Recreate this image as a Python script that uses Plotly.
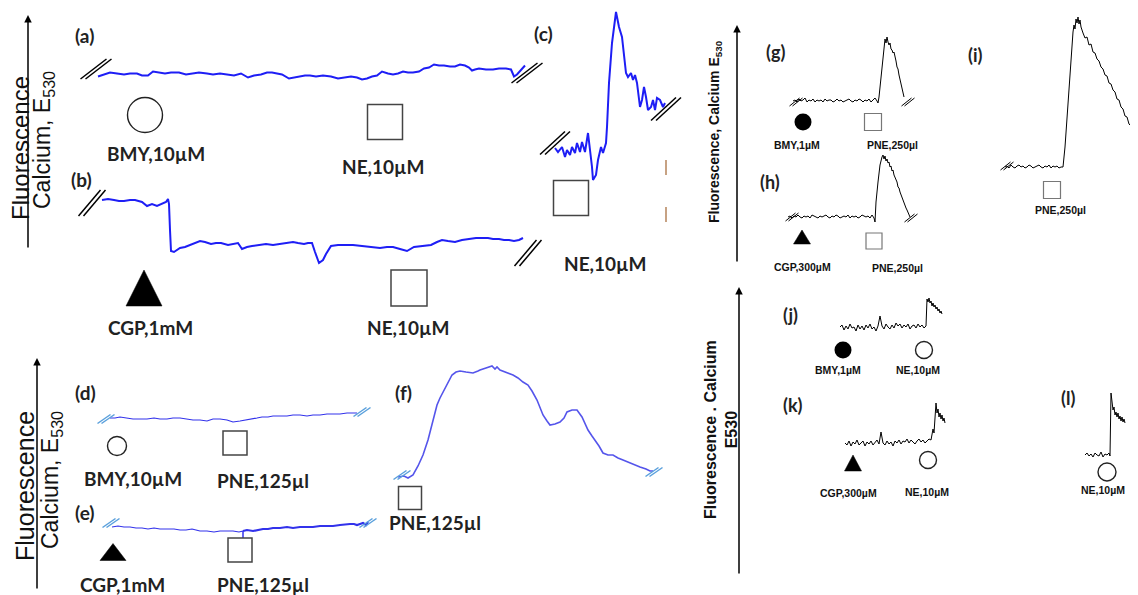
import plotly.graph_objects as go

W, H = 1138, 595
OFF = 8  # the page body margin in which the figure sits

# ---------------- data: time (s) and fluorescence change (a.u.) ----------------
a_t = [0,5,12,19,26,32,39,44,50,55,61,67,73,81,88,95,101,109,115,122,129,136,143,150,156,163,169,174,179,184,
       191,196,202,207,212,218,225,233,240,246,253,259,264,269,274,279,284,290,295,300,305,310,315,321,326,331,336,341,346,352,
       357,362,367,371,374,377,381,388,395,401,408,413,416,419,421,424,427]
a_f = [0,2,4,3,2,3,3,1,1,5,4,3,4,4,2,3,4,3,2,3,2,1,3,-1,1,2,4,4,3,2,
       -2,-1,0,1,1,0,1,0,-2,-1,0,-1,-3,-2,0,1,5,3,2,3,5,4,4,5,8,9,12,11,11,10,
       10,12,11,9,6,7,8,7,7,8,8,7,0,2,4,7,11]
a_drugs = ["BMY,10µM", "NE,10µM"]
a_add = [47, 287]

b_t = [0,6,12,17,22,28,33,37,40,45,50,55,60,64,66,67,68,69,72,78,83,88,93,98,103,109,114,119,126,131,
       136,140,145,150,157,164,171,178,185,191,196,202,206,210,213,217,221,224,229,236,243,251,260,269,278,285,291,298,305,312,
       320,329,335,340,346,353,360,367,374,381,386,391,397,402,407,412,417,421]
b_f = [0,1,0,-1,-1,0,0,-1,-2,-6,-4,-6,-4,-2,1,-4,-30,-51,-52,-48,-47,-45,-43,-41,-42,-44,-43,-43,-45,-44,
       -43,-49,-47,-46,-45,-44,-45,-44,-43,-42,-43,-44,-43,-43,-52,-63,-60,-54,-46,-45,-45,-45,-46,-47,-48,-47,-47,-49,-51,-47,
       -46,-45,-42,-40,-41,-42,-40,-39,-38,-38,-38,-39,-39,-40,-40,-41,-40,-38]
b_drugs = ["CGP,1mM", "NE,10µM"]
b_add = [42, 307]

c_t = [0,3,7,10,12,15,17,20,22,25,27,30,33,35,37,38,41,43,46,48,51,52,54,57,59,61,62,64,67,69,
       71,73,76,78,80,82,83,85,87,89,91,93,96,98,100,102,105,108,110]
c_f = [0,-4,1,-9,-2,-7,1,-5,5,-4,6,-4,15,0,-19,-32,-27,-12,1,-5,5,21,65,105,121,136,131,121,111,91,
       75,71,75,68,73,65,58,41,48,61,51,38,41,48,38,50,48,41,45]
c_drugs = ["NE,10µM"]
c_add = [16]

d_t = [0,5,10,16,23,30,37,44,50,57,63,70,77,83,90,97,103,110,117,123,
       130,137,142,147,152,158,163,170,177,183,190,197,203,210,217,223,230,237,243,247]
d_f = [0,0,1,0,-1,-1,-1,0,-1,-1,0,0,-1,-2,-2,-3,-1,-1,-2,-4,
       -3,-2,-1,0,1,1,2,2,2,3,3,2,3,3,4,4,4,5,5,5]
d_drugs = ["BMY,10µM", "PNE,125µl"]
d_add = [7, 125]

e_t = [0,6,12,18,24,30,36,42,48,55,62,68,74,80,88,95,102,108,115,121,127,131,135,141,146,151,156,161,168,175,
       181,188,195,201,208,215,221,228,234,238,242,245,248,251,254,256]
e_f = [0,1,0,0,-1,-1,-2,-1,-2,-2,-2,-3,-3,-2,-4,-4,-5,-4,-4,-4,-5,-4,-3,-4,-3,-2,-2,-1,-1,0,
       -1,0,0,0,1,1,1,2,3,3,3,2,3,4,2,5]
e_drugs = ["CGP,1mM", "PNE,125µl"]
e_add = [1, 128]

f_t = [0,6,10,15,20,25,30,35,39,42,47,51,54,58,62,68,75,80,82,88,94,97,99,102,108,115,120,125,130,134,
       139,142,145,149,152,157,162,166,169,174,179,184,187,190,194,197,201,205,210,215,220,225,232,237,242,248,252,255]
f_f = [0,1,-1,2,11,22,37,57,72,79,89,97,102,105,106,105,104,106,107,109,111,108,110,107,105,102,99,95,92,86,
       77,69,62,56,52,53,55,59,65,67,67,60,53,47,41,37,31,24,22,22,19,17,14,12,10,8,6,6]
f_drugs = ["PNE,125µl"]
f_add = [12]

g_t = [0,2,4,6,8,10,12,14,16,18,20,22,24,26,28,30,32,34,36,38,40,42,44,46,48,50,52,54,56,58,60,62,64,66,68,70,72,74,76,78,80,82,84,
       85,86,88,90,91,92,93,94,95,96,97,98,99,100,101,102,103,104,105,106,107,108,109,110,111]
g_f = [0,1,-1,2,0,1,3,-1,1,0,2,-1,1,0,1,-1,2,0,1,1,-1,0,2,0,1,-1,0,1,2,0,-1,1,0,2,1,-1,1,0,2,-1,1,3,0,
       -2,4,24,44,54,62,58,64,59,56,58,52,51,48,49,42,40,34,32,26,22,16,12,8,4]
g_drugs = ["BMY,1µM", "PNE,250µl"]
g_add = [10, 80]

h_t = [0,2,4,6,8,10,12,14,16,18,20,22,24,26,28,30,32,34,36,38,40,42,44,46,48,50,52,54,56,58,60,62,64,66,68,70,72,74,76,78,80,82,84,
       86,87,88,90,92,94,95,96,97,98,99,100,101,102,103,104,105,106,107,108,109,110,111,112,113,114,115,116,117,118,119,120,121,122]
h_f = [0,1,-1,1,0,2,0,-1,1,0,1,-1,2,1,0,-1,1,0,1,2,0,-1,1,0,2,1,-1,0,1,0,2,-1,1,0,1,-1,0,2,1,0,1,-1,2,
       -1,-5,15,35,52,60,62,58,61,56,58,54,55,50,51,46,47,42,40,37,35,30,29,25,22,19,17,14,12,9,7,4,2,0]
h_drugs = ["CGP,300µM", "PNE,250µl"]
h_add = [14, 86]

i_t = [0,2,4,6,8,10,12,14,16,18,20,22,24,26,28,30,32,34,36,38,40,42,44,46,48,50,52,54,56,
       58,60,62,64,66,67,68,69,70,71,72,73,74,75,76,
       78,80,82,84,86,88,90,92,94,96,98,100,102,104,106,108,110,112,114,116,118,120,122,124,126,128,130,132,134,136]
i_f = [0,1,-1,2,0,-1,1,2,0,1,-1,0,2,1,-1,0,1,2,0,-1,1,0,2,-1,1,0,1,-1,0,
       0,20,48,78,108,125,135,142,138,148,144,150,143,147,140,
       134,129,130,122,123,115,114,108,106,100,98,92,91,84,83,77,75,68,67,60,58,51,50,43,41,35,33,25,23,16]
i_drugs = ["PNE,250µl"]
i_add = [47]

j_t = [0,2,4,6,8,10,12,14,16,18,20,22,24,26,28,30,32,34,36,38,40,42,44,46,48,50,52,54,56,58,60,62,64,66,68,70,72,74,76,78,80,82,84,86,
       87,88,89,90,91,92,93,94,95,96,97,98,99,100,101,102]
j_f = [0,2,-3,1,-2,3,-1,0,-4,2,-2,1,-3,2,-1,3,-2,0,-4,1,11,1,-2,3,0,-2,2,-1,4,1,3,-1,2,0,3,-2,1,2,-1,3,0,2,-1,1,
       28,25,29,24,26,21,24,20,22,18,20,16,18,14,16,13]
j_drugs = ["BMY,1µM", "NE,10µM"]
j_add = [3, 84]

k_t = [0,2,4,6,8,10,12,14,16,18,20,22,24,26,28,30,32,34,36,38,40,42,44,46,48,50,52,54,56,58,60,62,64,66,68,70,72,74,76,78,80,82,84,
       86,87,88,89,90,91,92,93,94,95,96,97,98,99,100]
k_f = [0,-2,2,-3,1,-1,3,-2,0,2,-3,1,-1,2,-2,0,3,-1,11,0,-2,2,-1,1,-3,2,0,3,-1,2,1,4,0,3,1,-1,2,4,1,3,0,2,4,
       3,8,14,10,22,40,30,34,26,30,24,28,22,25,20]
k_drugs = ["CGP,300µM", "NE,10µM"]
k_add = [8, 83]

l_t = [0,2,4,6,8,10,12,14,16,18,20,22,24,25,26,27,28,29,30,31,32,33,34,35,36,37,38,39,40]
l_f = [0,2,-1,1,-2,2,0,-1,3,-2,1,0,2,-1,62,50,45,48,40,43,38,42,36,39,34,38,33,36,32]
l_drugs = ["NE,10µM"]
l_add = [22]

DATA = {
    'a': (a_t, a_f, a_drugs, a_add), 'b': (b_t, b_f, b_drugs, b_add), 'c': (c_t, c_f, c_drugs, c_add),
    'd': (d_t, d_f, d_drugs, d_add), 'e': (e_t, e_f, e_drugs, e_add), 'f': (f_t, f_f, f_drugs, f_add),
    'g': (g_t, g_f, g_drugs, g_add), 'h': (h_t, h_f, h_drugs, h_add), 'i': (i_t, i_f, i_drugs, i_add),
    'j': (j_t, j_f, j_drugs, j_add), 'k': (k_t, k_f, k_drugs, k_add), 'l': (l_t, l_f, l_drugs, l_add),
}

# ---------------- styles / layout of panels ----------------
BLUE = 'rgb(30,30,245)'
BLUE2 = 'rgb(50,50,235)'
BLUE3 = 'rgb(85,85,235)'
LB = 'rgb(90,160,220)'

STYLE = {
    'a': dict(org=(98, 76.5), color=BLUE, lw=2, side='L', letter=(-14, 41.5),
              brk=('black', 26, 20, 5, 1.5, (-2, 7.5), (2, -7.5)),
              marks=[('circle_open', 35, -38.5), ('square', 35, -45.5)], labs=[(11, -76.5), (-2, -89.5)]),
    'b': dict(org=(102, 200), color=BLUE, lw=2, side='L', letter=(-21, 21),
              brk=('black', 22, 26, 5, 1.5, (-10, -3), (5, -15)),
              marks=[('triangle', (36, 36), -88), ('square', 36, -88)], labs=[(6, -127), (-1, -127)]),
    'c': dict(org=(555, 148), color=BLUE, lw=2, side='L', letter=(-12, 115),
              brk=('black', 25, 23, 5, 1.5, (0, 5), (1, -6)),
              marks=[('square', 35, -50)], labs=[(34, -115)]),
    'd': dict(org=(110, 418), color=BLUE2, lw=1.2, side='L', letter=(-25, 26),
              brk=(LB, 13, 9, 4, 1.5, (-4, -1), (5, 1)),
              marks=[('circle_open', 19, -28), ('square', 24, -25)], labs=[(16, -60), (28, -62)]),
    'e': dict(org=(112, 527), color=BLUE2, lw=1.2, side='L', letter=(-27, 15),
              brk=(LB, 13, 9, 4, 1.5, (-1, 4), (0, -1)),
              marks=[('triangle', (26, 17), -25), ('square', 24, -23)], labs=[(9, -57), (23, -57)]),
    'f': dict(org=(398, 477), color=BLUE3, lw=1.6, side='L', letter=(5, 85),
              brk=(LB, 13, 9, 4, 1.5, (4, 2), (1, -1)),
              marks=[('square', 23, -21)], labs=[(25, -45)]),
    'g': dict(org=(793, 101), color='black', lw=1, side='R', letter=(-18, 49),
              brk=('black', 10, 8, 3, 1, (3, -1), (4, -5)),
              marks=[('circle_filled', 17, -21), ('square', 17, -21)], labs=[(-6, -44), (19, -44)]),
    'h': dict(org=(788, 217), color='black', lw=1, side='R', letter=(-18, 35),
              brk=('black', 10, 8, 3, 1, (4, 0), (1, -1)),
              marks=[('triangle', (17, 14), -20), ('square', 16, -24)], labs=[(0, -50), (23, -51)]),
    'i': dict(org=(1005, 167), color='black', lw=1, side='R', letter=(-30, 112),
              brk=('black', 10, 8, 3, 1, (2, 1), None),
              marks=[('square', 17, -23)], labs=[(8, -43)]),
    'j': dict(org=(840, 327), color='black', lw=1, side='R', letter=(-50, 12), brk=None,
              marks=[('circle_filled', 17, -23), ('circle_open', 17, -23)], labs=[(-5, -43), (-6, -43)]),
    'k': dict(org=(845, 443), color='black', lw=1, side='R', letter=(-52, 38), brk=None,
              marks=[('triangle', (17, 16), -20), ('circle_open', 17, -17)], labs=[(-5, -50), (-1, -49)]),
    'l': dict(org=(1085, 455), color='black', lw=1, side='R', letter=(-17, 57), brk=None,
              marks=[('circle_open', 18, -17)], labs=[(-4, -35)]),
}

LAB_FONT = {'L': dict(family='Lato', size=19, color='#222'),
            'R': dict(family='Liberation Sans', size=10.5, color='#111')}
LET_FONT = {'L': dict(family='Lato', size=19, color='#222'),
            'R': dict(family='Lato', size=18, color='#222')}

fig = go.Figure()
layout_axes = {}
annotations = []


def add(tr, xa, ya):
    tr.update(xaxis=xa, yaxis=ya, hoverinfo='skip', showlegend=False)
    fig.add_trace(tr)


def brk_xy(cx, cy, w, h, gap):
    xs = [cx - w / 2 - gap / 2, cx + w / 2 - gap / 2, None, cx - w / 2 + gap / 2, cx + w / 2 + gap / 2]
    ys = [cy - h / 2, cy + h / 2, None, cy - h / 2, cy + h / 2]
    return xs, ys


for idx, key in enumerate('abcdefghijkl', start=1):
    s = STYLE[key]
    t, f, drugs, adds = DATA[key]
    xa = 'x' if idx == 1 else f'x{idx}'
    ya = 'y' if idx == 1 else f'y{idx}'
    ox, oy = s['org']
    layout_axes['xaxis' if idx == 1 else f'xaxis{idx}'] = dict(domain=[0, 1], range=[OFF - ox, W - ox], visible=False,
                                                               anchor=ya, fixedrange=True)
    layout_axes['yaxis' if idx == 1 else f'yaxis{idx}'] = dict(domain=[0, 1], range=[oy - H, oy - OFF], visible=False,
                                                               anchor=xa, fixedrange=True)
    # trace
    if key == 'e':
        add(go.Scatter(x=t[:22], y=f[:22], mode='lines', line=dict(color=s['color'], width=s['lw'])), xa, ya)
        add(go.Scatter(x=t[21:], y=f[21:], mode='lines', line=dict(color=s['color'], width=2.2)), xa, ya)
        # connector from trace to the marker
        add(go.Scatter(x=[t[21], t[21]], y=[f[21], s['marks'][1][2] + s['marks'][1][1] / 2], mode='lines',
                       line=dict(color=s['color'], width=1.5)), xa, ya)
    else:
        add(go.Scatter(x=t, y=f, mode='lines', line=dict(color=s['color'], width=s['lw'])), xa, ya)
    # break marks
    if s['brk']:
        col, w, h, gap, lw, so, eo = s['brk']
        for (px0, py0), off in [((t[0], f[0]), so), ((t[-1], f[-1]), eo)]:
            if off is None:
                continue
            xs, ys = brk_xy(px0 + off[0], py0 + off[1], w, h, gap)
            add(go.Scatter(x=xs, y=ys, mode='lines', line=dict(color=col, width=lw)), xa, ya)
    # drug additions
    for tt, name, (kind, size, mf), (ldt, lf) in zip(adds, drugs, s['marks'], s['labs']):
        if kind == 'triangle':
            w, h = size
            add(go.Scatter(x=[tt - w / 2, tt + w / 2, tt, tt - w / 2], y=[mf - h / 2, mf - h / 2, mf + h / 2, mf - h / 2],
                           mode='lines', fill='toself', fillcolor='black', line=dict(color='black', width=0.5)), xa, ya)
        elif kind == 'square':
            lc, lwd = ('#444', 1.5) if s['side'] == 'L' else ('#777', 1.2)
            add(go.Scatter(x=[tt], y=[mf], mode='markers',
                           marker=dict(symbol='square', size=size, color='white', line=dict(color=lc, width=lwd))), xa, ya)
        elif kind == 'circle_open':
            add(go.Scatter(x=[tt], y=[mf], mode='markers',
                           marker=dict(symbol='circle', size=size, color='white', line=dict(color='#222', width=1.4))), xa, ya)
        else:
            add(go.Scatter(x=[tt], y=[mf], mode='markers',
                           marker=dict(symbol='circle', size=size, color='black', line=dict(color='black', width=0))), xa, ya)
        annotations.append(dict(x=tt + ldt, y=lf, xref=xa, yref=ya, text=f'<b>{name}</b>', showarrow=False,
                                font=LAB_FONT[s['side']], xanchor='center', yanchor='middle'))
    lx, ly = s['letter']
    annotations.append(dict(x=lx, y=ly, xref=xa, yref=ya, text=f'<b>({key})</b>', showarrow=False,
                            font=LET_FONT[s['side']], xanchor='center', yanchor='middle'))
    if key == 'c':
        add(go.Scatter(x=[111, 111, None, 111, 111], y=[-12, -27, None, -59, -74], mode='lines',
                       line=dict(color='#b5835a', width=1.5)), xa, ya)


def px(x, y):
    return (x - OFF) / (W - OFF), 1 - (y - OFF) / (H - OFF)


# axis arrows
for (hx, hy, ty) in [(28, 15, 249), (37, 358, 590), (737, 25, 263), (739, 287, 575)]:
    x0, y0 = px(hx, hy)
    annotations.append(dict(x=x0, y=y0, xref='paper', yref='paper', ax=0, ay=ty - hy, axref='pixel', ayref='pixel',
                            text='', showarrow=True, arrowhead=2, arrowsize=1, arrowwidth=1.5, arrowcolor='black'))

# axis titles
for (x, y, txt, fnt) in [
    (21, 148, 'Fluorescence', dict(family='Liberation Sans', size=24, color='#111')),
    (44, 140, 'Calcium, E<sub>530</sub>', dict(family='Liberation Sans', size=23, color='#111')),
    (25, 486, 'Fluorescence', dict(family='Liberation Sans', size=25, color='#111')),
    (51, 480, 'Calcium, E<sub>530</sub>', dict(family='Liberation Sans', size=23, color='#111')),
    (715, 132, '<b>Fluorescence, Calcium E<sub>530</sub></b>', dict(family='Liberation Sans', size=14, color='#111')),
    (721, 430, '<b>Fluorescence . Calcium<br>E530</b>', dict(family='Liberation Sans', size=16, color='#111')),
]:
    x0, y0 = px(x, y)
    annotations.append(dict(x=x0, y=y0, xref='paper', yref='paper', text=txt, textangle=-90, showarrow=False,
                            font=fnt, xanchor='center', yanchor='middle'))

fig.update_layout(width=W - OFF, height=H - OFF, margin=dict(l=0, r=0, t=0, b=0), autosize=False,
                  paper_bgcolor='white', plot_bgcolor='rgba(0,0,0,0)', showlegend=False,
                  annotations=annotations, **layout_axes)

fig.write_html("out.html")
